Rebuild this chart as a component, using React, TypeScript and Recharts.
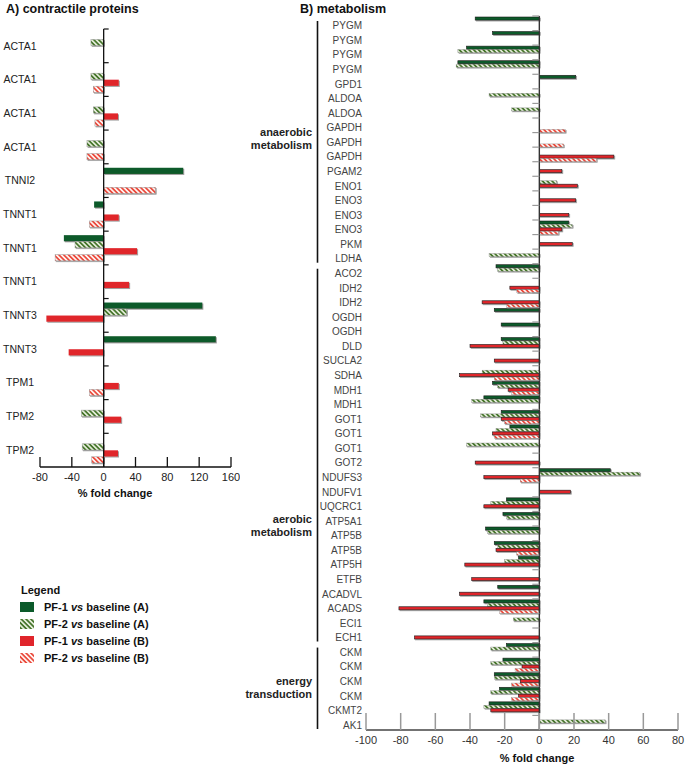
import React from "react";
import { BarChart, Bar, XAxis, YAxis, ReferenceLine, Label } from "recharts";

// A) contractile proteins
const contractileNames = ["ACTA1", "ACTA1", "ACTA1", "ACTA1", "TNNI2", "TNNT1", "TNNT1", "TNNT1", "TNNT3", "TNNT3", "TPM1", "TPM2", "TPM2"];
const contractilePf1A = [null, null, null, null, 100, -12, -50, null, 124, 141, null, null, null];
const contractilePf2A = [-16, -16, -13, -21, null, null, -36, null, 29, null, null, -28, -27];
const contractilePf1B = [null, 19, 18, null, null, 19, 42, 32, -72, -44, 19, 22, 18];
const contractilePf2B = [null, -13, -11, -21, 65, -18, -61, null, null, null, -18, null, -15];
const contractileTicks = [-80, -40, 0, 40, 80, 120, 160];

// B) metabolism
const metabolismNames = [
  "PYGM", "PYGM", "PYGM", "PYGM", "GPD1", "ALDOA", "ALDOA", "GAPDH", "GAPDH", "GAPDH", "PGAM2", "ENO1", "ENO3", "ENO3", "ENO3", "PKM", "LDHA",
  "ACO2", "IDH2", "IDH2", "OGDH", "OGDH", "DLD", "SUCLA2", "SDHA", "MDH1", "MDH1", "GOT1", "GOT1", "GOT1", "GOT2", "NDUFS3", "NDUFV1", "UQCRC1",
  "ATP5A1", "ATP5B", "ATP5B", "ATP5H", "ETFB", "ACADVL", "ACADS", "ECI1", "ECH1",
  "CKM", "CKM", "CKM", "CKM", "CKMT2", "AK1",
];
const metabolismPf1A = [
  -37, -27, -42, -47, 21, null, null, null, null, null, null, null, null, null, 17, null, null,
  -25, null, null, -26, -22, -22, null, null, -27, -32, -22, -17, null, null, 41, null, -19,
  -21, -31, -26, -12, null, -24, -32, null, null,
  -19, -21, -26, -23, -29, null,
];
const metabolismPf2A = [
  null, null, -47, -48, null, -29, -16, null, null, null, null, 10, null, null, 19, null, -29,
  -24, null, null, null, null, -21, null, -33, -24, -39, -34, -25, -42, null, 58, null, -28,
  -19, -30, -24, -20, null, null, -30, -15, null,
  -28, -28, -26, -28, -32, 38,
];
const metabolismPf1B = [
  null, null, null, null, null, null, null, null, null, 43, 13, 22, 21, 17, 13, 19, null,
  null, -17, -33, null, null, -40, -26, -46, -18, null, -22, -27, null, -37, -32, 18, -32,
  null, null, -25, -43, -39, -46, -81, null, -72,
  null, -10, -11, -12, -28, null,
];
const metabolismPf2B = [
  null, null, null, null, null, null, null, 15, 14, 33, null, null, null, null, 11, null, null,
  null, -13, -19, null, null, null, null, -26, -16, null, -20, -26, null, null, -11, null, null,
  null, null, -13, null, null, null, -23, null, null,
  null, -14, -16, -16, null, null,
];
const metabolismTicks = [-100, -80, -60, -40, -20, 0, 20, 40, 60, 80];
const metabolismGroups = [
  { lines: ["anaerobic", "metabolism"], start: 0, end: 16, labelAt: 8.45 },
  { lines: ["aerobic", "metabolism"], start: 17, end: 42, labelAt: 35.0 },
  { lines: ["energy", "transduction"], start: 43, end: 48, labelAt: 46.1 },
];

const GREEN = "#0b5a2a";
const RED = "#e0252b";

const contractileData = contractileNames.map((name, i) => ({
  id: `A${i}`,
  name,
  pf1A: contractilePf1A[i],
  pf2A: contractilePf2A[i],
  pf1B: contractilePf1B[i],
  pf2B: contractilePf2B[i],
}));

const metabolismData = metabolismNames.map((name, i) => ({
  id: `B${i}`,
  name,
  pf1A: metabolismPf1A[i],
  pf2A: metabolismPf2A[i],
  pf1B: metabolismPf1B[i],
  pf2B: metabolismPf2B[i],
}));

// layout of panel A
const A_W = 240;
const A_H = 500;
const A_TOP = 29;
const A_YAXIS = 40;
const A_RIGHT = 9;
const A_XAXIS = 33;
const A_PLOT_W = A_W - A_YAXIS - A_RIGHT;
const A_BAND = (A_H - A_TOP - A_XAXIS) / contractileNames.length;
const A_ZERO = A_YAXIS + ((0 - -80) / 240) * A_PLOT_W;

// layout of panel B
const B_LEFT = 240;
const B_W = 445;
const B_H = 766;
const B_TOP = 16;
const B_YAXIS = 126;
const B_RIGHT = 7;
const B_XAXIS = 36;
const B_PLOT_W = B_W - B_YAXIS - B_RIGHT;
const B_BAND = (B_H - B_TOP - B_XAXIS) / metabolismNames.length;
const B_ZERO = B_YAXIS + ((0 - -100) / 180) * B_PLOT_W;

const patternDefs = (p: string) => (
  <defs>
    <pattern id={`${p}-hg`} width={3.4} height={3.4} patternUnits="userSpaceOnUse" patternTransform="rotate(-45)">
      <rect width={3.4} height={3.4} fill="#e3ecd8" />
      <rect width={1.7} height={3.4} fill="#45742b" />
    </pattern>
    <pattern id={`${p}-hr`} width={3.4} height={3.4} patternUnits="userSpaceOnUse" patternTransform="rotate(-45)">
      <rect width={3.4} height={3.4} fill="#fff1ee" />
      <rect width={1.7} height={3.4} fill="#ea4a3c" />
    </pattern>
    <filter id={`${p}-sh`} x="-10%" y="-60%" width="130%" height="280%">
      <feDropShadow dx={1} dy={1} stdDeviation={0.3} floodColor="#777" floodOpacity={0.7} />
    </filter>
  </defs>
);

// bars may have negative width in vertical layout
const makeShape = (fill: string, stroke: string, sw: number, shadow: string) => (props: any) => {
  let { x, y, width, height } = props;
  if (!width || !height) return <g />;
  if (width < 0) {
    x += width;
    width = -width;
  }
  return (
    <rect x={x} y={y} width={width} height={height} fill={fill} stroke={stroke} strokeWidth={sw} filter={`url(#${shadow})`} />
  );
};

const ContractileCatTick = (props: any) => {
  const { x, y, index } = props;
  const top = y - A_BAND / 2;
  return (
    <g>
      <text x={x - 20} y={y} dy="0.35em" textAnchor="middle" fontSize={10.5} fill="#222">
        {contractileNames[index]}
      </text>
      <line x1={A_ZERO} x2={A_ZERO + 5} y1={top} y2={top} stroke="#111" strokeWidth={1.2} />
    </g>
  );
};

const ContractileValueTick = (props: any) => {
  const { x, y, payload } = props;
  return (
    <g>
      <line x1={x} x2={x} y1={y - 10} y2={y} stroke="#111" strokeWidth={1.3} />
      <text x={x} y={y + 14} textAnchor="middle" fontSize={11} fill="#222">
        {payload.value}
      </text>
    </g>
  );
};

const MetabolismCatTick = (props: any) => {
  const { x, y, index } = props;
  const top = y - B_BAND / 2;
  const group = metabolismGroups.find((g) => g.start === index);
  let groupMarks = null;
  if (group) {
    const plotTop = top - group.start * B_BAND;
    const bottom = top + (group.end - group.start + 1) * B_BAND;
    const cy = plotTop + group.labelAt * B_BAND;
    groupMarks = (
      <g>
        <line x1={x - 48.5} x2={x - 48.5} y1={top + 5} y2={bottom - 1} stroke="#111" strokeWidth={1.6} />
        <text x={x - 54} y={cy - 6.5} dy="0.35em" textAnchor="end" fontSize={11} fontWeight="bold" fill="#222">
          {group.lines[0]}
        </text>
        <text x={x - 54} y={cy + 6.5} dy="0.35em" textAnchor="end" fontSize={11} fontWeight="bold" fill="#222">
          {group.lines[1]}
        </text>
      </g>
    );
  }
  return (
    <g>
      <text x={x - 4} y={y + 2.5} dy="0.35em" textAnchor="end" fontSize={10} fill="#444">
        {metabolismNames[index]}
      </text>
      <line x1={B_ZERO - 7} x2={B_ZERO} y1={top} y2={top} stroke="#999" strokeWidth={1.2} />
      {groupMarks}
    </g>
  );
};

const MetabolismValueTick = (props: any) => {
  const { x, y, payload } = props;
  return (
    <g>
      <line x1={x} x2={x} y1={y - 17} y2={y} stroke="#999" strokeWidth={1.5} />
      <text x={x} y={y + 14} textAnchor="middle" fontSize={11} fill="#333">
        {payload.value}
      </text>
    </g>
  );
};

const axisTitle = (frac: number, dy: number) => (props: any) => {
  const vb = props.viewBox || {};
  return (
    <text x={vb.x + frac * vb.width} y={vb.y + dy} textAnchor="middle" fontSize={11} fontWeight="bold" fill="#111">
      % fold change
    </text>
  );
};

const legendItems = [
  { key: "g", pf: "PF-1", grp: "A", fill: GREEN },
  { key: "hg", pf: "PF-2", grp: "A", fill: "url(#lg-hg)" },
  { key: "r", pf: "PF-1", grp: "B", fill: RED },
  { key: "hr", pf: "PF-2", grp: "B", fill: "url(#lg-hr)" },
];

export default function App() {
  return (
    <div
      style={{
        position: "absolute",
        left: 0,
        top: 0,
        width: 685,
        height: 766,
        background: "#fff",
        fontFamily: "'Liberation Sans', Arial, sans-serif",
        color: "#111",
        overflow: "hidden",
      }}
    >
      <div style={{ position: "absolute", left: 6, top: 1, fontSize: 12.5, fontWeight: "bold", lineHeight: "16px" }}>
        A) contractile proteins
      </div>
      <div style={{ position: "absolute", left: 300, top: 1, fontSize: 12.5, fontWeight: "bold", lineHeight: "16px" }}>
        B) metabolism
      </div>

      <div style={{ position: "absolute", left: 0, top: 0 }}>
        <BarChart
          width={A_W}
          height={A_H}
          data={contractileData}
          layout="vertical"
          margin={{ top: A_TOP, right: A_RIGHT, bottom: 0, left: 0 }}
          barSize={6.2}
          barGap={0.3}
        >
          {patternDefs("ca")}
          <XAxis
            type="number"
            domain={[-80, 160]}
            ticks={contractileTicks}
            interval={0}
            height={A_XAXIS}
            tickSize={0}
            tickMargin={0}
            tickLine={false}
            tick={ContractileValueTick}
            axisLine={{ stroke: "#111", strokeWidth: 1.3 }}
          >
            <Label content={axisTitle(0.393, 30)} />
          </XAxis>
          <YAxis
            type="category"
            dataKey="id"
            width={A_YAXIS}
            interval={0}
            tickSize={0}
            tickMargin={0}
            tickLine={false}
            axisLine={false}
            tick={ContractileCatTick}
          />
          <Bar dataKey="pf1A" isAnimationActive={false} shape={makeShape(GREEN, "none", 0, "ca-sh")} />
          <Bar dataKey="pf2A" isAnimationActive={false} shape={makeShape("url(#ca-hg)", "#9a9a9a", 0.5, "ca-sh")} />
          <Bar dataKey="pf1B" isAnimationActive={false} shape={makeShape(RED, "none", 0, "ca-sh")} />
          <Bar dataKey="pf2B" isAnimationActive={false} shape={makeShape("url(#ca-hr)", "#9a9a9a", 0.5, "ca-sh")} />
          <ReferenceLine x={0} stroke="#111" strokeWidth={1.3} />
        </BarChart>
      </div>

      <div style={{ position: "absolute", left: B_LEFT, top: 0 }}>
        <BarChart
          width={B_W}
          height={B_H}
          data={metabolismData}
          layout="vertical"
          margin={{ top: B_TOP, right: B_RIGHT, bottom: 0, left: 0 }}
          barSize={3.1}
          barGap={0.35}
        >
          {patternDefs("mb")}
          <XAxis
            type="number"
            domain={[-100, 80]}
            ticks={metabolismTicks}
            interval={0}
            height={B_XAXIS}
            tickSize={0}
            tickMargin={0}
            tickLine={false}
            tick={MetabolismValueTick}
            axisLine={{ stroke: "#444", strokeWidth: 1.3 }}
          >
            <Label content={axisTitle(0.548, 32)} />
          </XAxis>
          <YAxis
            type="category"
            dataKey="id"
            width={B_YAXIS}
            interval={0}
            tickSize={0}
            tickMargin={0}
            tickLine={false}
            axisLine={false}
            tick={MetabolismCatTick}
          />
          <Bar dataKey="pf1A" isAnimationActive={false} shape={makeShape(GREEN, "#1a1a1a", 0.6, "mb-sh")} />
          <Bar dataKey="pf2A" isAnimationActive={false} shape={makeShape("url(#mb-hg)", "#8a8a8a", 0.4, "mb-sh")} />
          <Bar dataKey="pf1B" isAnimationActive={false} shape={makeShape(RED, "#1a1a1a", 0.6, "mb-sh")} />
          <Bar dataKey="pf2B" isAnimationActive={false} shape={makeShape("url(#mb-hr)", "#8a8a8a", 0.4, "mb-sh")} />
          <ReferenceLine x={0} stroke="#333" strokeWidth={1.4} />
        </BarChart>
      </div>

      <div style={{ position: "absolute", left: 21, top: 583, fontSize: 11, fontWeight: "bold", lineHeight: "14px" }}>
        Legend
      </div>
      <svg width={0} height={0} style={{ position: "absolute" }}>
        {patternDefs("lg")}
      </svg>
      {legendItems.map((item, i) => (
        <div
          key={item.key}
          style={{
            position: "absolute",
            left: 20,
            top: 598 + i * 17.3,
            height: 17,
            display: "flex",
            alignItems: "center",
            fontSize: 11,
            fontWeight: "bold",
          }}
        >
          <svg width={14} height={10} style={{ marginRight: 10 }}>
            <rect x={0} y={0} width={14} height={10} fill={item.fill} />
          </svg>
          <span>
            {item.pf} <i>vs</i> baseline ({item.grp})
          </span>
        </div>
      ))}
    </div>
  );
}
